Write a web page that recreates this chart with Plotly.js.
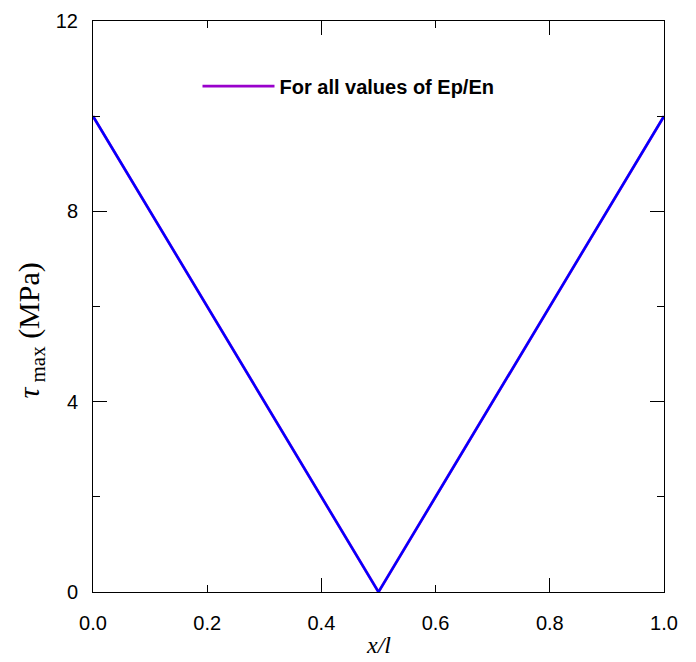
<!DOCTYPE html>
<html>
<head>
<meta charset="utf-8">
<script src="https://cdn.plot.ly/plotly-3.0.1.min.js"></script>
<style>html,body{margin:0;padding:0;background:#fff;}#chart{width:696px;height:662px;}</style>
</head>
<body>
<div id="chart"></div>
<script>
const xValues = [0, 0.1, 0.2, 0.3, 0.4, 0.5, 0.6, 0.7, 0.8, 0.9, 1.0];
const tauPurple = [10, 8, 6, 4, 2, 0, 2, 4, 6, 8, 10];
const tauBlue = [10, 8, 6, 4, 2, 0, 2, 4, 6, 8, 10];
const legendLabel = "For all values of Ep/En";
const xTickVals = [0, 0.2, 0.4, 0.6, 0.8, 1.0];
const xTickText = ["0.0", "0.2", "0.4", "0.6", "0.8", "1.0"];
const xLongTicks = [0.4, 0.8];
const yTickVals = [0, 4, 8, 12];

const traces = [
  {x: xValues, y: tauPurple, mode: 'lines', name: legendLabel,
   line: {color: '#9900cc', width: 2.8}, showlegend: true},
  {x: xValues, y: tauBlue, mode: 'lines', name: 'blue',
   line: {color: '#0000ff', width: 2.3}, showlegend: false},
  {x: [0, 1], y: [null, null], xaxis: 'x2', yaxis: 'y', showlegend: false, hoverinfo: 'skip'}
];

const layout = {
  width: 696, height: 662,
  margin: {l: 93, r: 32, t: 21, b: 70},
  paper_bgcolor: '#fff', plot_bgcolor: '#fff',
  font: {family: 'Liberation Sans, Arial, sans-serif', color: '#000', size: 20},
  showlegend: true,
  legend: {x: 0.183, y: 0.886, xanchor: 'left', yanchor: 'middle', itemwidth: 72,
    bgcolor: 'rgba(0,0,0,0)', borderwidth: 0,
    font: {family: 'Liberation Sans, Arial, sans-serif', size: 20, color: '#000', weight: 'bold'}},
  xaxis: {
    range: [0, 1], tickvals: xTickVals, ticktext: xTickText,
    ticks: 'inside', ticklen: 7, tickcolor: '#000', tickwidth: 1,
    showline: true, linecolor: '#000', linewidth: 1, mirror: 'ticks',
    showgrid: false, zeroline: false, ticklabelstandoff: 13,
    tickfont: {size: 20}
  },
  xaxis2: {
    range: [0, 1], overlaying: 'x', anchor: 'y', side: 'bottom',
    tickvals: xLongTicks, showticklabels: false,
    ticks: 'inside', ticklen: 14, tickcolor: '#000', tickwidth: 1,
    showline: false, mirror: 'ticks', showgrid: false, zeroline: false
  },
  yaxis: {
    range: [0, 12], tickvals: yTickVals,
    ticks: 'inside', ticklen: 14, tickcolor: '#000', tickwidth: 1,
    minor: {dtick: 2, ticks: 'inside', ticklen: 7, tickcolor: '#000', tickwidth: 1, showgrid: false},
    showline: true, linecolor: '#000', linewidth: 1, mirror: 'ticks',
    showgrid: false, zeroline: false, ticklabelstandoff: 10,
    tickfont: {size: 20}
  },
  annotations: [
    {text: '<i>τ</i><sub> max</sub> (MPa)', xref: 'paper', yref: 'paper', x: -0.1085, y: 0.458,
     xanchor: 'center', yanchor: 'middle', textangle: -90, showarrow: false,
     font: {family: 'Liberation Serif, Times New Roman, serif', size: 30, color: '#000'}},
    {text: '<i>x/l</i>', xref: 'paper', yref: 'paper', x: 0.5, y: -0.093,
     xanchor: 'center', yanchor: 'middle', showarrow: false,
     font: {family: 'Liberation Serif, Times New Roman, serif', size: 24, color: '#000'}}
  ]
};

Plotly.newPlot('chart', traces, layout, {displayModeBar: false, staticPlot: true});
</script>
</body>
</html>
